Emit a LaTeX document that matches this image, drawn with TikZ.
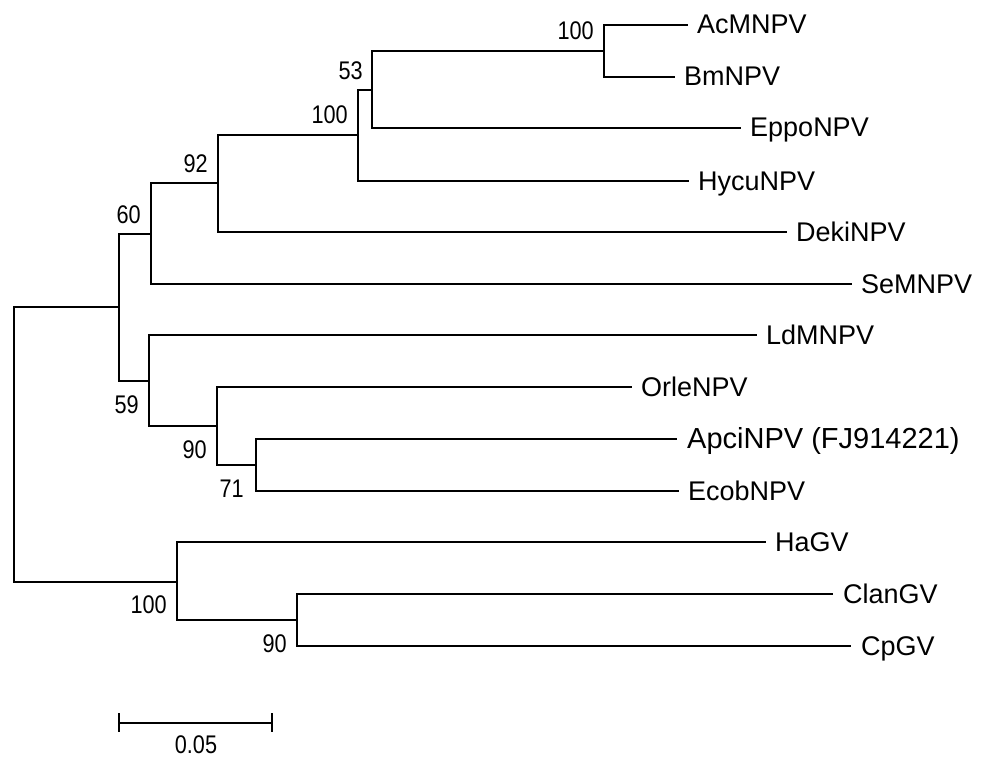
\documentclass[tikz,border=0pt]{standalone}
\usepackage{fontspec}
\setmainfont{Liberation Sans}
\newfontfamily\bootfont[FakeStretch=0.85]{Liberation Sans}
\begin{document}
\begin{tikzpicture}[x=1pt,y=-1pt,
  branch/.style={line width=2pt,line join=miter},
  tiplabel/.style={inner sep=0pt,anchor=base west,font=\fontsize{27}{27}\selectfont},
  bigtip/.style={tiplabel,font=\fontsize{29}{29}\selectfont},
  boot/.style={inner sep=0pt,anchor=base east,font=\bootfont\fontsize{25.5}{25.5}\selectfont}]
\useasboundingbox (0,0) rectangle (983,757);

% internal nodes: (x of the split, y of the branch leading into it)
\coordinate (root)  at (13.5,444);
\coordinate (nA)    at (119,307);
\coordinate (n60)   at (151,234);
\coordinate (n92)   at (218,183);
\coordinate (n100a) at (358,135);
\coordinate (n53)   at (372,90);
\coordinate (n100b) at (604,51);
\coordinate (n59)   at (149,381);
\coordinate (n90a)  at (217,426);
\coordinate (n71)   at (256,465);
\coordinate (n100c) at (177,582);
\coordinate (n90b)  at (297,620);

% branch tips
\coordinate (Ac)   at (688,25);
\coordinate (Bm)   at (675,77);
\coordinate (Eppo) at (741,128);
\coordinate (Hycu) at (689,181);
\coordinate (Deki) at (787,232);
\coordinate (Se)   at (852,284);
\coordinate (Ld)   at (757,335);
\coordinate (Orle) at (632,387);
\coordinate (Apci) at (677,439);
\coordinate (Ecob) at (679,491);
\coordinate (Ha)   at (766,542);
\coordinate (Clan) at (833,594);
\coordinate (Cp)   at (851,646);

% tree edges
\draw[branch] (root) |- (nA);
\draw[branch] (root) |- (n100c);
\draw[branch] (nA) |- (n60);
\draw[branch] (nA) |- (n59);
\draw[branch] (n60) |- (n92);
\draw[branch] (n60) |- (Se);
\draw[branch] (n92) |- (n100a);
\draw[branch] (n92) |- (Deki);
\draw[branch] (n100a) |- (n53);
\draw[branch] (n100a) |- (Hycu);
\draw[branch] (n53) |- (n100b);
\draw[branch] (n53) |- (Eppo);
\draw[branch] (n100b) |- (Ac);
\draw[branch] (n100b) |- (Bm);
\draw[branch] (n59) |- (Ld);
\draw[branch] (n59) |- (n90a);
\draw[branch] (n90a) |- (Orle);
\draw[branch] (n90a) |- (n71);
\draw[branch] (n71) |- (Apci);
\draw[branch] (n71) |- (Ecob);
\draw[branch] (n100c) |- (Ha);
\draw[branch] (n100c) |- (n90b);
\draw[branch] (n90b) |- (Clan);
\draw[branch] (n90b) |- (Cp);

% taxon names
\node[tiplabel] (lAc)   at ([xshift=9pt,yshift=-9pt]Ac)   {AcMNPV};
\node[tiplabel] (lBm)   at ([xshift=9pt,yshift=-9pt]Bm)   {BmNPV};
\node[tiplabel] (lEppo) at ([xshift=9pt,yshift=-9pt]Eppo) {EppoNPV};
\node[tiplabel] (lHycu) at ([xshift=9pt,yshift=-9pt]Hycu) {HycuNPV};
\node[tiplabel] (lDeki) at ([xshift=9pt,yshift=-9pt]Deki) {DekiNPV};
\node[tiplabel] (lSe)   at ([xshift=9pt,yshift=-9pt]Se)   {SeMNPV};
\node[tiplabel] (lLd)   at ([xshift=9pt,yshift=-9pt]Ld)   {LdMNPV};
\node[tiplabel] (lOrle) at ([xshift=9pt,yshift=-9pt]Orle) {OrleNPV};
\node[bigtip]   (lApci) at ([xshift=10pt,yshift=-9pt]Apci) {ApciNPV (FJ914221)};
\node[tiplabel] (lEcob) at ([xshift=9pt,yshift=-9pt]Ecob) {EcobNPV};
\node[tiplabel] (lHa)   at ([xshift=9pt,yshift=-9pt]Ha)   {HaGV};
\node[tiplabel] (lClan) at ([xshift=10pt,yshift=-9pt]Clan) {ClanGV};
\node[tiplabel] (lCp)   at ([xshift=10pt,yshift=-9pt]Cp)   {CpGV};

% bootstrap support values
\node[boot] (b100b) at ([xshift=-10pt,yshift=11pt]n100b) {100};
\node[boot] (b53)   at ([xshift=-9pt,yshift=10pt]n53)    {53};
\node[boot] (b100a) at ([xshift=-10pt,yshift=11pt]n100a) {100};
\node[boot] (b92)   at ([xshift=-10pt,yshift=10pt]n92)   {92};
\node[boot] (b60)   at ([xshift=-10pt,yshift=11pt]n60)   {60};
\node[boot] (b59)   at ([xshift=-10pt,yshift=-32pt]n59)  {59};
\node[boot] (b90a)  at ([xshift=-10pt,yshift=-32pt]n90a) {90};
\node[boot] (b71)   at ([xshift=-12pt,yshift=-32pt]n71)  {71};
\node[boot] (b100c) at ([xshift=-10pt,yshift=-31pt]n100c) {100};
\node[boot] (b90b)  at ([xshift=-10pt,yshift=-32pt]n90b) {90};

% scale bar
\coordinate (sbL) at (118.5,722.5);
\coordinate (sbR) at (271.5,722.5);
\draw[branch] (sbL) -- (sbR);
\draw[branch] ([yshift=9.5pt]sbL) -- ([yshift=-9.5pt]sbL);
\draw[branch] ([yshift=9.5pt]sbR) -- ([yshift=-9.5pt]sbR);
\node[boot,anchor=base] (sbText) at (196,753) {0.05};
\end{tikzpicture}
\end{document}
